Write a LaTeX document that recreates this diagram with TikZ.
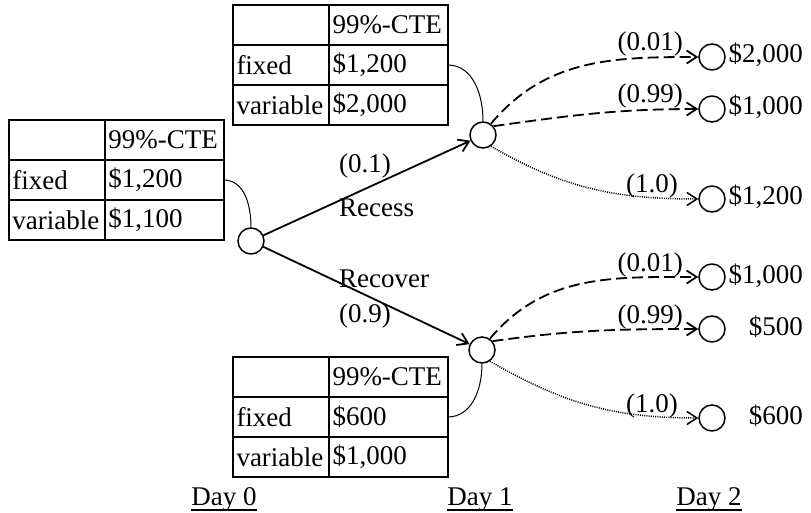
\documentclass[tikz,border=0pt]{standalone}
\usepackage{fontspec}
\setmainfont{Liberation Serif}
\usetikzlibrary{matrix,arrows.meta}

\tikzset{
  ctetable/.style={matrix of nodes, nodes in empty cells, draw, line width=2.4pt,
    inner sep=0pt, outer sep=0pt, row sep=0pt, column sep=0pt,
    nodes={draw, line width=1pt, inner xsep=3pt, inner ysep=0pt, outer sep=0pt,
      minimum height=39pt, anchor=center, align=left},
    column 1/.style={nodes={text width=89pt}},
    column 2/.style={nodes={text width=112pt}}},
  chance/.style={circle, draw, line width=1.5pt, minimum size=26pt, inner sep=0pt},
  lab/.style={inner sep=0pt},
  branch/.style={->, line width=1.8pt},
  hook/.style={line width=1pt},
  lowpath/.style={->, line width=1.8pt, dash pattern=on 11pt off 5pt},
  flatpath/.style={->, line width=1.5pt, dash pattern=on 1pt off 1.2pt}
}

\begin{document}
\begin{tikzpicture}[x=1pt, y=-1pt, font=\fontsize{27}{32}\selectfont,
    >={Straight Barb[length=10pt,width=13pt]}]
\useasboundingbox (0,0) rectangle (811,513);

% tables of 99%-CTE
\matrix (t0) [ctetable, anchor=north west] at (9,120) {
  & 99\%-CTE \\
  fixed & \$1,200 \\
  variable & \$1,100 \\
};
\matrix (t1) [ctetable, anchor=north west] at (233,5) {
  & 99\%-CTE \\
  fixed & \$1,200 \\
  variable & \$2,000 \\
};
\matrix (t2) [ctetable, anchor=north west] at (233,357) {
  & 99\%-CTE \\
  fixed & \$600 \\
  variable & \$1,000 \\
};

% chance nodes
\node[chance] (r0) at (251,241) {};
\node[chance] (n1) at (483,135) {};
\node[chance] (n2) at (482,350) {};
\node[chance] (a1) at (712,57) {};
\node[chance] (a2) at (712,109) {};
\node[chance] (a3) at (712,199) {};
\node[chance] (b1) at (712,277) {};
\node[chance] (b2) at (712,329) {};
\node[chance] (b3) at (712,418) {};

% tables to nodes
\draw[hook] (t0-2-2.east) to[out=0,in=90] (r0.north);
\draw[hook] (t1-2-2.east) to[out=0,in=90] (n1.north);
\draw[hook] (t2-2-2.east) to[out=0,in=-90] (n2.south);

% day 0 -> day 1
\draw[branch] (r0) -- (n1);
\draw[branch] (r0) -- (n2);
\node[lab, anchor=base west] (pr1) at (339,173) {(0.1)};
\node[lab, anchor=base west] (nm1) at (339,217) {Recess};
\node[lab, anchor=base west] (nm2) at (339,287) {Recover};
\node[lab, anchor=base west] (pr2) at (339,322) {(0.9)};

% day 1 -> day 2
\draw[lowpath] (n1.55) to[out=50,in=180] (a1);
\draw[lowpath] (n1.40) to[out=8,in=180] (a2);
\draw[flatpath] (n1.-55) to[out=-30,in=180] (a3);
\draw[lowpath] (n2.55) to[out=50,in=180] (b1);
\draw[lowpath] (n2.40) to[out=8,in=180] (b2);
\draw[flatpath] (n2.-55) to[out=-30,in=180] (b3);

\node[lab, anchor=base east] (qa1) at (683,51) {(0.01)};
\node[lab, anchor=base east] (qa2) at (683,103) {(0.99)};
\node[lab, anchor=base east] (qa3) at (678,193) {(1.0)};
\node[lab, anchor=base east] (qb1) at (683,271) {(0.01)};
\node[lab, anchor=base east] (qb2) at (683,323) {(0.99)};
\node[lab, anchor=base east] (qb3) at (678,412) {(1.0)};

\node[lab, anchor=base east] (va1) at (803,63) {\$2,000};
\node[lab, anchor=base east] (va2) at (803,115) {\$1,000};
\node[lab, anchor=base east] (va3) at (803,205) {\$1,200};
\node[lab, anchor=base east] (vb1) at (803,283) {\$1,000};
\node[lab, anchor=base east] (vb2) at (803,335) {\$500};
\node[lab, anchor=base east] (vb3) at (803,424) {\$600};

% days
\node[lab, anchor=base] (d0) at (224,505) {Day 0};
\node[lab, anchor=base] (d1) at (480,505) {Day 1};
\node[lab, anchor=base] (d2) at (709,505) {Day 2};
\foreach \d in {d0,d1,d2}
  \draw[line width=1.4pt] ([yshift=-5pt]\d.base west) -- ([yshift=-5pt]\d.base east);
\end{tikzpicture}
\end{document}
